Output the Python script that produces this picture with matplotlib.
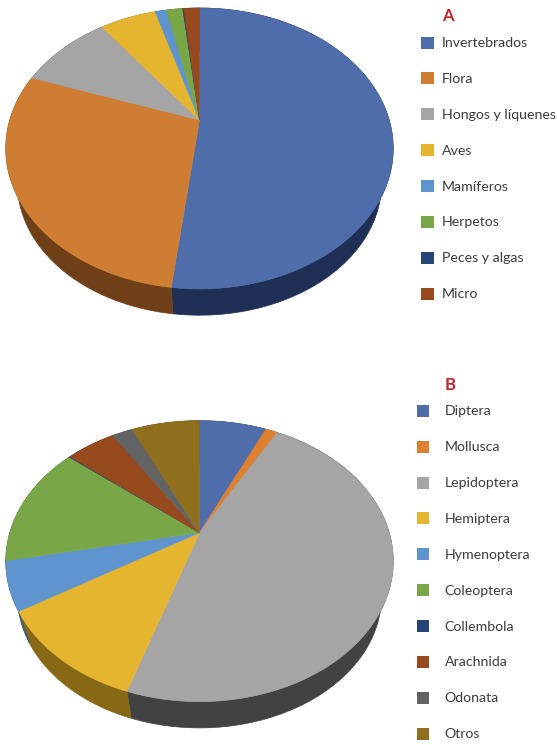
import numpy as np
import matplotlib
matplotlib.use('Agg')
import matplotlib.pyplot as plt
from matplotlib.patches import Polygon, Rectangle

# valores (%)
labels_a = ['Invertebrados', 'Flora', 'Hongos y líquenes', 'Aves', 'Mamíferos', 'Herpetos', 'Peces y algas', 'Micro']
values_a = [51.9, 28.5, 9.4, 5.7, 1.15, 1.65, 0.1, 1.6]
colors_a = ['#4f6dab', '#cf7d33', '#a5a5a5', '#e6b52f', '#5f94cf', '#79a748', '#264478', '#964a1e']
sides_a = ['#1f2f56', '#6f4018', '#555555', '#7f641a', '#345a80', '#4a6a2c', '#16284a', '#5a2c10']

labels_b = ['Diptera', 'Mollusca', 'Lepidoptera', 'Hemiptera', 'Hymenoptera', 'Coleoptera', 'Collembola', 'Arachnida', 'Odonata', 'Otros']
values_b = [6.8, 1.2, 47.0, 11.25, 5.55, 14.1, 0.1, 5.0, 2.1, 6.9]
colors_b = ['#4f6dab', '#dd8030', '#a5a5a5', '#e6b52f', '#5f94cf', '#79a748', '#264478', '#964a1e', '#636363', '#8f6e1e']
sides_b = ['#2c3f66', '#80491c', '#424242', '#876814', '#345a80', '#4a6a2c', '#16284a', '#5a2c10', '#3a3a3a', '#55400f']

plt.rcParams['font.family'] = ['Lato', 'DejaVu Sans']

fig = plt.figure(figsize=(5.57, 7.45), dpi=100)
ax = fig.add_axes([0, 0, 1, 1])
ax.set_xlim(0, 557)
ax.set_ylim(745, 0)
ax.axis('off')


def rim(theta, x0, y0):
    # circulo en perspectiva: theta en sentido horario desde arriba
    u = np.sin(theta)
    v = np.cos(theta)
    w = 1 + 0.2027 * v
    return x0 + 189.7 * u / w, y0 - 134.7 * v / w


def pie3d(values, colors, sides, x0, y0):
    edges = np.cumsum([0] + list(values)) / np.sum(values) * 2 * np.pi
    yc = y0 + 28.7
    # primero el lateral
    for i in range(len(values)):
        th = np.linspace(edges[i], edges[i + 1], 60)
        x, y = rim(th, x0, y0)
        xb = x0 + 0.94 * (x - x0)
        yb = yc + 0.94 * (y - yc) + 34.7
        pts = np.r_[np.c_[x, y], np.c_[xb, yb][::-1]]
        ax.add_patch(Polygon(pts, fc=sides[i], ec=sides[i], lw=0.5, zorder=1))
    for i in range(len(values)):
        th = np.linspace(edges[i], edges[i + 1], 80)
        x, y = rim(th, x0, y0)
        pts = np.r_[[[x0, y0]], np.c_[x, y]]
        ax.add_patch(Polygon(pts, fc=colors[i], ec=colors[i], lw=0.4, zorder=2))


def legend(title, labels, colors, xm, xt, ytitle, ystart, step):
    ax.text(xt, ytitle, title, color='#c8202c', fontsize=12, fontweight='bold', va='center', ha='left')
    for i in range(len(labels)):
        y = ystart + i * step
        ax.add_patch(Rectangle((xm - 6.3, y - 6), 12.6, 12, fc=colors[i], ec='none'))
        ax.text(xt, y + 0.5, labels[i], color='#3c3c3c', fontsize=10.2, va='center', ha='left')


pie3d(values_a, colors_a, sides_a, 199.5, 120)
pie3d(values_b, colors_b, sides_b, 199.5, 532.7)
legend('A', labels_a, colors_a, 427.5, 442, 16, 42.5, 35.9)
legend('B', labels_b, colors_b, 423, 444.5, 385, 410.7, 35.9)

plt.savefig('out.png', dpi=100)
